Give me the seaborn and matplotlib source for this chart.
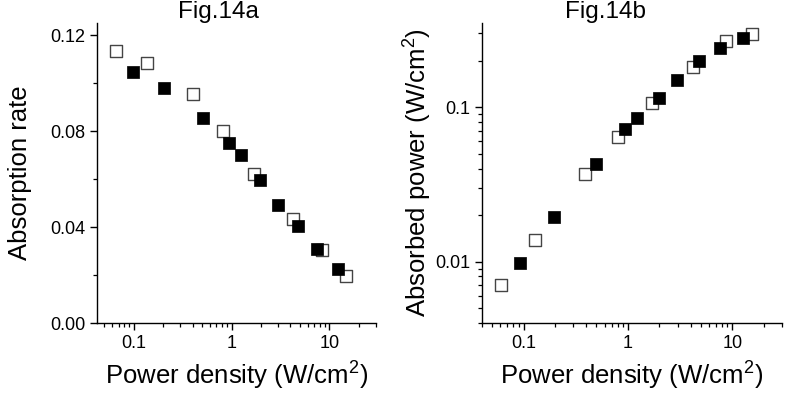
import numpy as np
import pandas as pd
import matplotlib
matplotlib.use("Agg")
import matplotlib.pyplot as plt
import seaborn as sns
from matplotlib.ticker import LogLocator, MultipleLocator, FixedLocator, NullFormatter

# data
# Fig.14a - absorption rate vs power density
density_open_a = [0.065, 0.135, 0.40, 0.82, 1.70, 4.2, 8.4, 14.9]
rate_open = [0.1135, 0.1083, 0.0953, 0.0801, 0.0620, 0.0433, 0.0306, 0.0195]
density_fill_a = [0.098, 0.205, 0.515, 0.95, 1.24, 1.94, 2.96, 4.8, 7.5, 12.2]
rate_fill = [0.1045, 0.0980, 0.0853, 0.0748, 0.0700, 0.0595, 0.0490, 0.0405, 0.0310, 0.0223]

# Fig.14b - absorbed power vs power density
density_open_b = [0.061, 0.129, 0.39, 0.80, 1.72, 4.2, 8.8, 15.5]
power_open = [0.0070, 0.0137, 0.0370, 0.0637, 0.106, 0.181, 0.266, 0.297]
density_fill_b = [0.093, 0.195, 0.50, 0.94, 1.22, 1.97, 2.95, 4.84, 7.7, 12.7]
power_fill = [0.0098, 0.0193, 0.0426, 0.0721, 0.0849, 0.115, 0.149, 0.199, 0.240, 0.280]

sns.set_style("ticks")
plt.rcParams['font.family'] = ['Liberation Sans', 'DejaVu Sans']
plt.rcParams['mathtext.fontset'] = 'custom'
plt.rcParams['mathtext.rm'] = 'Liberation Sans'
plt.rcParams['mathtext.it'] = 'Liberation Sans'
plt.rcParams['text.color'] = 'black'
plt.rcParams['axes.labelcolor'] = 'black'
plt.rcParams['xtick.color'] = 'black'
plt.rcParams['ytick.color'] = 'black'

fig = plt.figure(figsize=(7.89, 3.96), dpi=100)
ax1 = fig.add_axes([97/789, 73/396, 279/789, 300/396])
ax2 = fig.add_axes([482/789, 73/396, 300/789, 300/396])

xlabel = "Power density (W/cm$^2$)"


def draw(ax, x_open, y_open, x_fill, y_fill):
    sns.scatterplot(x=x_open, y=y_open, marker="s", s=72, color="white",
                    edgecolor="#444444", linewidth=1.0, ax=ax, zorder=2)
    sns.scatterplot(x=x_fill, y=y_fill, marker="s", s=85, color="black",
                    edgecolor="black", linewidth=0.5, ax=ax, zorder=3)
    ax.set_xscale("log")
    ax.xaxis.set_major_locator(FixedLocator([0.1, 1, 10]))
    ax.xaxis.set_major_formatter(plt.FuncFormatter(lambda v, p: "%g" % v))
    ax.xaxis.set_minor_locator(LogLocator(base=10, subs=np.arange(2, 10), numticks=20))
    ax.xaxis.set_minor_formatter(NullFormatter())
    sns.despine(ax=ax)
    for s in ["left", "bottom"]:
        ax.spines[s].set_linewidth(1.0)
        ax.spines[s].set_color("black")
    ax.tick_params(which="major", length=5, width=1.0, labelsize=13)
    ax.tick_params(which="minor", length=3, width=0.9)
    ax.set_xlabel(xlabel, fontsize=18.5, labelpad=6)


draw(ax1, density_open_a, rate_open, density_fill_a, rate_fill)
ax1.set_xlim(0.042, 30)
ax1.set_ylim(0, 0.125)
ax1.yaxis.set_major_locator(MultipleLocator(0.04))
ax1.yaxis.set_minor_locator(MultipleLocator(0.02))
ax1.yaxis.set_major_formatter(plt.FuncFormatter(lambda v, p: "%.2f" % v))
ax1.set_ylabel("Absorption rate", fontsize=18.5, labelpad=13)
ax1.set_title("Fig.14a", fontsize=17.5, x=0.434, pad=3)

draw(ax2, density_open_b, power_open, density_fill_b, power_fill)
ax2.set_yscale("log")
ax2.set_xlim(0.04, 30)
ax2.set_ylim(0.004, 0.35)
ax2.yaxis.set_major_locator(FixedLocator([0.01, 0.1]))
ax2.yaxis.set_major_formatter(plt.FuncFormatter(lambda v, p: "%g" % v))
ax2.yaxis.set_minor_locator(LogLocator(base=10, subs=np.arange(2, 10), numticks=20))
ax2.yaxis.set_minor_formatter(NullFormatter())
ax2.set_ylabel("Absorbed power (W/cm$^2$)", fontsize=18.5, labelpad=1)
ax2.set_title("Fig.14b", fontsize=17.5, x=0.411, pad=3)

plt.savefig("out.png", dpi=100)
